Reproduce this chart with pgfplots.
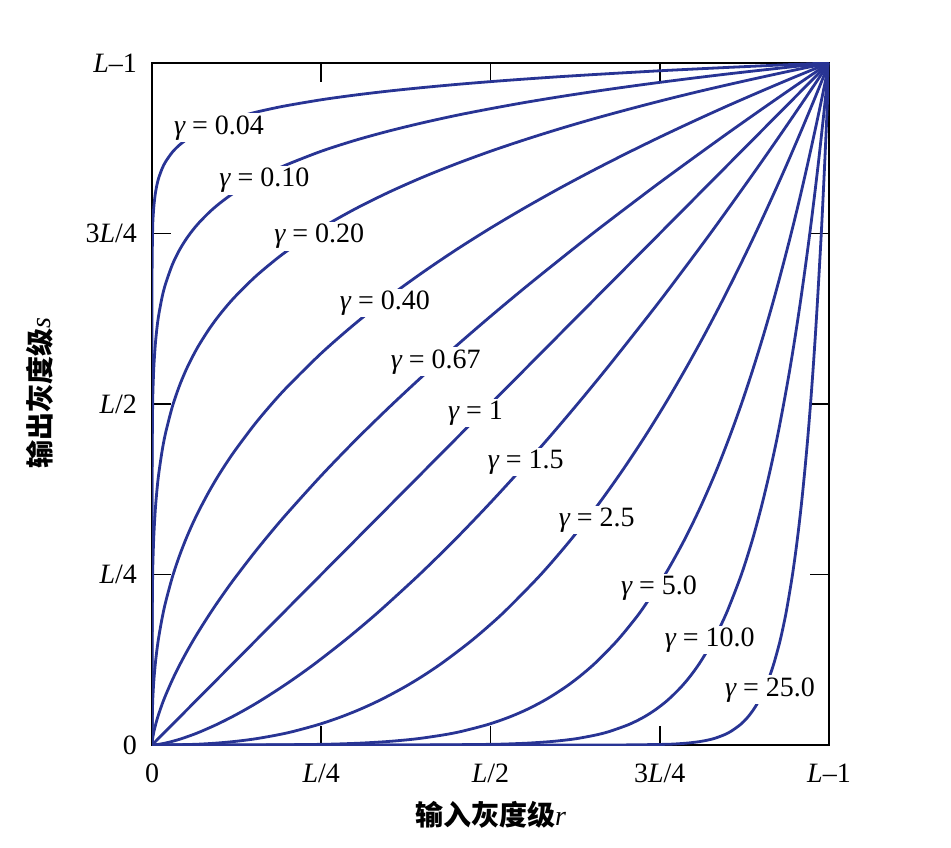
\documentclass[border=0pt]{standalone}
\usepackage{pgfplots}
\pgfplotsset{compat=1.18}
\usepackage{pgfplotstable}
\usepackage{fontspec}
\setmainfont{Liberation Serif}
\newfontfamily\cjk{Noto Sans CJK SC}
\definecolor{curveblue}{RGB}{40,52,148}
\pgfplotstableread{
x g004 g010 g020 g040 g067
0 0 0 0 0 0
1e-8 0.4786 0.1585 0.0251 0.00063 0.000004
1e-6 0.5754 0.2512 0.0631 0.00398 0.0001
1e-4 0.6918 0.3981 0.1585 0.0251 0.0021
0.001 0.7586 0.5012 0.2512 0.0631 0.0098
0.002 0.7798 0.5372 0.2885 0.0832 0.0156
0.003 0.7925 0.5593 0.3129 0.0979 0.0204
0.005 0.8090 0.5887 0.3466 0.1201 0.0287
0.0075 0.8222 0.6131 0.3758 0.1413 0.0377
0.01 0.8318 0.6310 0.3981 0.1585 0.0457
0.015 0.8453 0.6571 0.4317 0.1864 0.0600
0.02 0.8551 0.6761 0.4573 0.2091 0.0727
0.03 0.8692 0.7042 0.4959 0.2459 0.0954
0.04 0.8793 0.7248 0.5253 0.2759 0.1157
0.05 0.8871 0.7411 0.5493 0.3017 0.1344
0.06 0.8936 0.7547 0.5696 0.3245 0.1519
0.07 0.8990 0.7664 0.5875 0.3451 0.1683
0.085 0.9061 0.7815 0.6108 0.3730 0.1917
0.1 0.9120 0.7943 0.6310 0.3981 0.2138
0.12 0.9187 0.8089 0.6545 0.4282 0.2416
0.15 0.9270 0.8272 0.6843 0.4682 0.2805
0.175 0.9327 0.8400 0.7056 0.4980 0.3110
0.2 0.9377 0.8513 0.7248 0.5253 0.3401
0.25 0.9461 0.8706 0.7579 0.5744 0.3950
0.3 0.9530 0.8866 0.7860 0.6178 0.4464
0.35 0.9589 0.9003 0.8106 0.6571 0.4949
0.4 0.9640 0.9124 0.8326 0.6931 0.5412
0.45 0.9686 0.9233 0.8524 0.7266 0.5857
0.5 0.9727 0.9330 0.8706 0.7579 0.6285
0.55 0.9764 0.9420 0.8873 0.7873 0.6699
0.6 0.9798 0.9502 0.9029 0.8152 0.7099
0.65 0.9829 0.9578 0.9175 0.8417 0.7493
0.7 0.9858 0.9649 0.9311 0.8670 0.7873
0.75 0.9886 0.9716 0.9441 0.8913 0.8247
0.8 0.9911 0.9779 0.9564 0.9146 0.8610
0.85 0.9935 0.9839 0.9680 0.9371 0.8968
0.9 0.9958 0.9895 0.9791 0.9587 0.9318
0.95 0.9980 0.9949 0.9898 0.9797 0.9662
1 1 1 1 1 1
}\gam
\begin{document}
\begin{tikzpicture}
\begin{axis}[
  name=ax,
  scale only axis,
  width=338.5pt, height=341pt,
  xmin=0, xmax=1, ymin=0, ymax=1,
  axis line style={black, line width=1pt},
  xtick={0,0.25,0.5,0.75,1},
  ytick={0,0.25,0.5,0.75,1},
  xticklabels={0,{\itshape L}/4,{\itshape L}/2,3{\itshape L}/4,{\itshape L}\textendash1},
  yticklabels={0,{\itshape L}/4,{\itshape L}/2,3{\itshape L}/4,{\itshape L}\textendash1},
  tick align=inside,
  tick pos=both,
  major tick length=9.5pt,
  tick style={black, line width=0.9pt},
  ticklabel style={font=\fontsize{14}{16}\selectfont},
  yticklabel style={xshift=-4pt},
  xticklabel style={yshift=-6pt},
  xlabel={\cjk\bfseries 输入灰度级\rmfamily\mdseries\itshape r},
  ylabel={\cjk\bfseries 输出灰度级\rmfamily\mdseries\itshape s},
  xlabel style={at={(axis description cs:0.5,-0.1026)}, anchor=center, font=\fontsize{14}{16}\selectfont},
  ylabel style={at={(axis description cs:-0.1654,0.516)}, anchor=center, font=\fontsize{14}{16}\selectfont},
  curve/.style={curveblue, line width=1.4pt, smooth, tension=0.5, no markers, solid},
  clip=true,
]
\addplot[curve] table[x=x, y=g004] {\gam};
\addplot[curve] table[x=x, y=g010] {\gam};
\addplot[curve] table[x=x, y=g020] {\gam};
\addplot[curve] table[x=x, y=g040] {\gam};
\addplot[curve] table[x=x, y=g067] {\gam};
\addplot[curve] coordinates {(0,0) (1,1)};
\addplot[curve] table[x=g067, y=x] {\gam};
\addplot[curve] table[x=g040, y=x] {\gam};
\addplot[curve] table[x=g020, y=x] {\gam};
\addplot[curve] table[x=g010, y=x] {\gam};
\addplot[curve] table[x=g004, y=x] {\gam};
\begin{scope}[every node/.style={fill=white, inner sep=1pt, font=\fontsize{14}{16}\selectfont}]
\node at (axis cs:0.099,0.905) {{\itshape γ} = 0.04};
\node at (axis cs:0.166,0.828) {{\itshape γ} = 0.10};
\node at (axis cs:0.247,0.746) {{\itshape γ} = 0.20};
\node at (axis cs:0.344,0.648) {{\itshape γ} = 0.40};
\node at (axis cs:0.419,0.562) {{\itshape γ} = 0.67};
\node at (axis cs:0.478,0.487) {{\itshape γ} = 1};
\node at (axis cs:0.552,0.415) {{\itshape γ} = 1.5};
\node at (axis cs:0.657,0.330) {{\itshape γ} = 2.5};
\node at (axis cs:0.749,0.230) {{\itshape γ} = 5.0};
\node at (axis cs:0.824,0.154) {{\itshape γ} = 10.0};
\node at (axis cs:0.913,0.081) {{\itshape γ} = 25.0};
\end{scope}
\end{axis}
\path (ax.south west) ++(-76pt,-51pt) rectangle ++(475.5pt,423.5pt);
\end{tikzpicture}
\end{document}
